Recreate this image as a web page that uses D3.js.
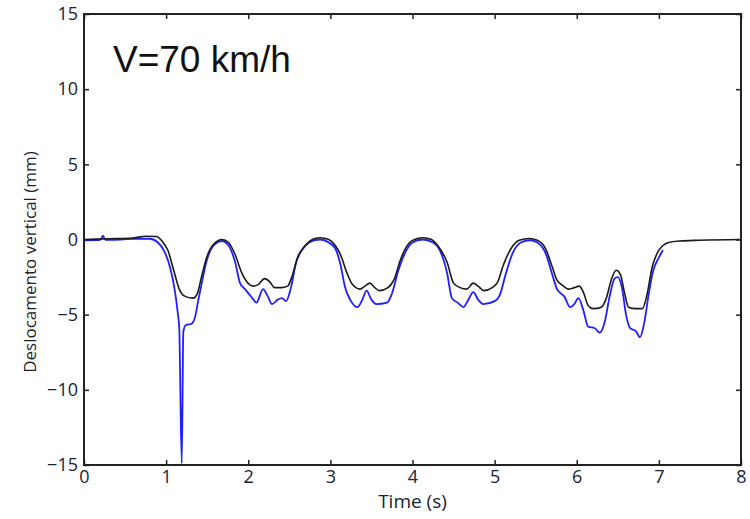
<!DOCTYPE html>
<html>
<head>
<meta charset="utf-8">
<script src="https://cdn.jsdelivr.net/npm/d3@7"></script>
<style>
  body { margin: 0; background: #fff; }
  .tick text { font-family: "Open Sans", sans-serif; font-size: 18px; fill: #1a2233; }
</style>
</head>
<body>
<div id="my_dataviz"></div>
<script>
// data: time (s) and vertical displacement (mm)
const blackT = [0, 0.3, 0.6, 0.75, 0.88, 0.95, 1.02, 1.1, 1.16, 1.22, 1.33, 1.38, 1.43, 1.5, 1.58, 1.68, 1.76, 1.84, 1.92, 1.98,
  2.06, 2.12, 2.2, 2.26, 2.32, 2.4, 2.48, 2.53, 2.6, 2.7, 2.8, 2.88, 2.98, 3.06, 3.13, 3.2, 3.27, 3.36, 3.42, 3.48,
  3.54, 3.6, 3.7, 3.78, 3.85, 3.95, 4.05, 4.13, 4.23, 4.32, 4.42, 4.5, 4.58, 4.66, 4.74, 4.8, 4.87, 4.97, 5.04, 5.1,
  5.2, 5.3, 5.42, 5.52, 5.62, 5.7, 5.76, 5.84, 5.9, 5.97, 6.03, 6.08, 6.14, 6.2, 6.3, 6.36, 6.42, 6.48, 6.53, 6.58,
  6.63, 6.72, 6.8, 6.85, 6.92, 6.98, 7.05, 7.12, 7.25, 7.5, 8.0];
const blackV = [0, 0.05, 0.1, 0.22, 0.2, -0.1, -0.7, -2.2, -3.3, -3.75, -3.9, -3.6, -2.5, -1.1, -0.3, 0.0, -0.2, -1.0, -2.2, -2.8,
  -3.1, -3.0, -2.6, -2.8, -3.2, -3.2, -3.1, -2.5, -1.2, -0.35, 0.05, 0.12, 0.0, -0.4, -1.1, -2.2, -3.0, -3.3, -3.1, -2.9,
  -3.2, -3.4, -3.2, -2.6, -1.4, -0.3, 0.05, 0.12, 0.0, -0.5, -1.5, -2.9, -3.2, -3.3, -2.9, -3.1, -3.4, -3.2, -2.8, -1.8,
  -0.6, -0.05, 0.07, -0.05, -0.6, -1.8, -2.7, -3.1, -3.3, -3.2, -3.1, -3.5, -4.4, -4.6, -4.5, -3.9, -2.7, -2.05, -2.3, -3.5,
  -4.5, -4.6, -4.6, -3.8, -1.8, -0.9, -0.4, -0.2, -0.1, -0.05, 0.0];

const blueT = [0, 0.2, 0.23, 0.26, 0.45, 0.6, 0.8, 0.9, 0.98, 1.05, 1.1, 1.14, 1.16, 1.19, 1.21, 1.24, 1.31, 1.35, 1.39, 1.43,
  1.5, 1.58, 1.68, 1.76, 1.84, 1.9, 1.96, 2.05, 2.1, 2.18, 2.24, 2.29, 2.36, 2.41, 2.46, 2.52, 2.58, 2.7, 2.8, 2.88,
  2.98, 3.06, 3.12, 3.18, 3.24, 3.33, 3.39, 3.44, 3.5, 3.56, 3.69, 3.75, 3.82, 3.9, 4.0, 4.12, 4.25, 4.34, 4.42, 4.48,
  4.55, 4.62, 4.68, 4.74, 4.8, 4.86, 5.0, 5.07, 5.13, 5.22, 5.32, 5.43, 5.52, 5.62, 5.7, 5.76, 5.85, 5.92, 5.97, 6.02,
  6.08, 6.14, 6.22, 6.28, 6.34, 6.4, 6.46, 6.5, 6.55, 6.6, 6.65, 6.72, 6.77, 6.82, 6.88, 6.93, 7.0, 7.05];
const blueV = [-0.05, -0.02, 0.25, -0.02, 0.0, 0.05, 0.05, -0.2, -0.8, -1.9, -3.2, -4.8, -5.9, -14.9, -6.1, -5.7, -5.6, -5.2, -4.1, -3.0,
  -1.3, -0.4, -0.1, -0.4, -1.5, -2.9, -3.3, -3.9, -4.2, -3.3, -3.8, -4.3, -4.0, -3.9, -4.1, -3.2, -1.6, -0.4, -0.05, 0.0,
  -0.2, -0.6, -1.6, -3.2, -4.0, -4.5, -4.0, -3.4, -4.0, -4.3, -4.2, -3.6, -2.2, -1.0, -0.2, 0.0, -0.2, -0.8, -2.2, -3.9,
  -4.2, -4.5, -4.0, -3.5, -4.0, -4.3, -4.1, -3.6, -2.4, -0.9, -0.2, -0.05, -0.2, -0.9, -2.3, -3.3, -3.8, -4.5, -4.3, -3.9,
  -4.7, -5.8, -5.9, -6.2, -5.5, -3.8, -2.6, -2.5, -3.2, -5.0, -5.9, -6.1, -6.5, -5.6, -3.5, -2.1, -1.2, -0.7];

const xTicks = [0, 1, 2, 3, 4, 5, 6, 7, 8];
const yTicks = [-15, -10, -5, 0, 5, 10, 15];

const margin = { top: 14, right: 9, bottom: 54, left: 84 },
    width = 750 - margin.left - margin.right,
    height = 519 - margin.top - margin.bottom;

const svg = d3.select("#my_dataviz")
    .append("svg")
    .attr("width", width + margin.left + margin.right)
    .attr("height", height + margin.top + margin.bottom)
    .append("g")
    .attr("transform", `translate(${margin.left}, ${margin.top})`);

const x = d3.scaleLinear().domain([0, 8]).range([0, width]);
const y = d3.scaleLinear().domain([-15, 15]).range([height, 0]);

// axes with inward ticks
svg.append("g")
    .attr("transform", `translate(0, ${height})`)
    .call(d3.axisBottom(x).tickValues(xTicks).tickSizeInner(-5).tickSizeOuter(0).tickPadding(5))
    .call(g => g.select(".domain").remove());
svg.append("g")
    .call(d3.axisTop(x).tickValues(xTicks).tickSizeInner(-5).tickSizeOuter(0).tickFormat(""))
    .call(g => g.select(".domain").remove());
svg.append("g")
    .call(d3.axisLeft(y).tickValues(yTicks).tickSizeInner(-5).tickSizeOuter(0).tickPadding(6))
    .call(g => g.select(".domain").remove());
svg.append("g")
    .attr("transform", `translate(${width}, 0)`)
    .call(d3.axisRight(y).tickValues(yTicks).tickSizeInner(-5).tickSizeOuter(0).tickFormat(""))
    .call(g => g.select(".domain").remove());
svg.selectAll(".tick line").attr("stroke", "#222").attr("stroke-width", 1.5);

// lines
const line = d3.line()
    .x(d => x(d[0]))
    .y(d => y(d[1]))
    .curve(d3.curveMonotoneX);

svg.append("path")
    .datum(d3.zip(blueT, blueV))
    .attr("fill", "none")
    .attr("stroke", "#1f1fff")
    .attr("stroke-width", 1.8)
    .attr("d", line);

svg.append("path")
    .datum(d3.zip(blackT, blackV))
    .attr("fill", "none")
    .attr("stroke", "#1a1a1a")
    .attr("stroke-width", 1.6)
    .attr("d", line);

// frame
svg.append("rect")
    .attr("width", width)
    .attr("height", height)
    .attr("fill", "none")
    .attr("stroke", "#222")
    .attr("stroke-width", 2);

// labels
svg.append("text")
    .attr("x", width / 2)
    .attr("y", 494)
    .attr("text-anchor", "middle")
    .style("font-family", "'Open Sans', sans-serif")
    .style("font-size", "19px")
    .style("fill", "#1a2233")
    .text("Time (s)");

svg.append("text")
    .attr("transform", `translate(-48, ${262 - margin.top}) rotate(-90)`)
    .attr("text-anchor", "middle")
    .style("font-family", "'Open Sans', sans-serif")
    .style("font-size", "17px")
    .style("fill", "#222")
    .text("Deslocamento vertical (mm)");

svg.append("text")
    .attr("x", 113 - margin.left)
    .attr("y", 72 - margin.top)
    .style("font-family", "'Liberation Sans', Arial, sans-serif")
    .style("font-size", "37px")
    .style("fill", "#111")
    .text("V=70 km/h");
</script>
</body>
</html>
